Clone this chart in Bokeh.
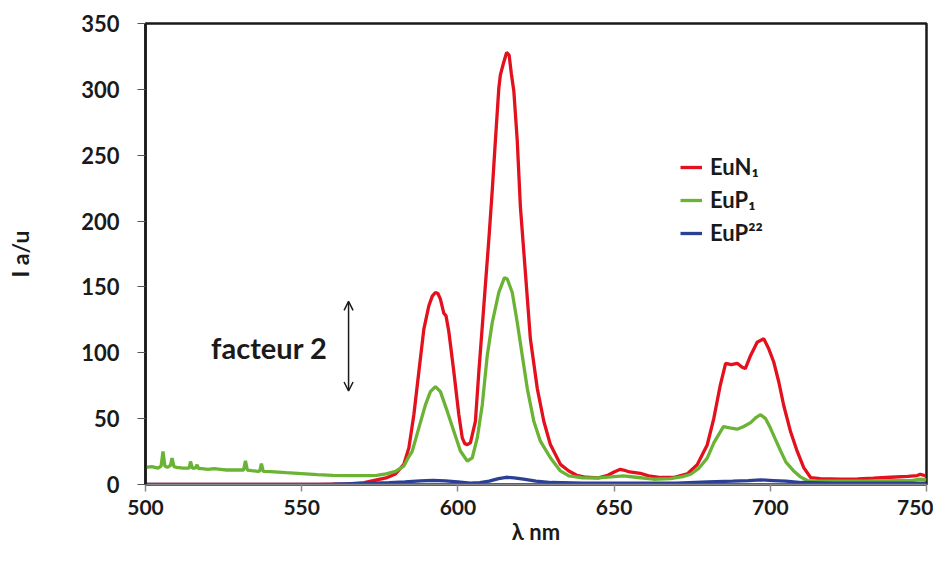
from bokeh.plotting import figure
from bokeh.models import Range1d, Legend, LegendItem, Label, Arrow, OpenHead, FixedTicker
from bokeh.embed import file_html
from bokeh.resources import INLINE

# ---- data ----
red_nm = [500, 520, 540, 555, 565, 570, 574, 577, 580, 582.7, 584.3, 585.9, 587.5, 589.1, 590.7,
          591.8, 592.8, 593.6, 594.4, 595.5, 596.2, 597.1, 598.7, 600.3, 601.4, 602.2, 603, 604,
          605.6, 606.7, 608.3, 609.9, 611.0, 612.0, 613.1, 613.6, 614.6, 615.6, 616.4, 617.1,
          617.9, 619, 620, 621.6, 623.2, 625.4, 627.5, 629.6, 632.8, 635.5, 638, 641, 645, 648,
          650, 652, 653, 655, 658.4, 661, 665, 669, 673.4, 676.6, 679.8, 681.9, 684, 685.7, 687.5,
          689.4, 691, 692, 693.7, 695.8, 697.9, 699.5, 701.1, 702.7, 704.3, 706.5, 708.6, 710.7,
          712.9, 716, 722.5, 728, 733, 738.5, 744, 747, 748, 749.7]
red_I = [0, 0, 0, 0, 0.5, 1.5, 3.5, 5, 8, 15.3, 27.8, 53, 85.6, 118, 135.7,
         143, 145.8, 145, 140.7, 130, 128, 116, 85.6, 53, 35.4, 31, 30.3, 31.6,
         48, 85.6, 135.7, 186, 223.5, 261, 301, 311, 320, 328, 326, 312,
         298.8, 261, 211, 161, 110.6, 73, 48, 30.3, 15.3, 10.3, 7, 5.5, 5, 7,
         9.5, 11.5, 11, 9.5, 8.5, 6.5, 5.3, 5.3, 8, 15, 30, 50, 75.5, 92, 91,
         92, 89, 88, 98, 108, 110.6, 103, 93, 78, 60, 40, 25.3, 12.8,
         5.3, 4.5, 4, 4.2, 4.8, 5.5, 6.2, 6.8, 7.8, 6.5]

green_nm = [500, 502, 504, 505, 505.6, 506.2, 507, 508, 508.5, 509.1, 510, 512, 514, 514.4, 515,
            516, 516.5, 517, 518, 520, 522, 524, 526, 528, 530, 531.4, 532, 532.6, 534, 536,
            536.6, 537.1, 537.7, 540, 545, 550, 555, 560, 565, 570, 574, 577, 580, 582.7, 584,
            585.4, 587.5, 589.6, 591.2, 592.8, 594.4, 596.6, 598.7, 600.8, 603, 604.6, 606.2,
            607.8, 609.4, 611, 613.1, 614.9, 615.8, 617.4, 619, 620.6, 622.2, 624.3, 626.4,
            629.6, 632.8, 635.5, 640, 645, 650, 653, 657, 662.6, 668, 672, 674.5, 677, 679.8,
            682, 685, 687, 689.4, 691.5, 693.7, 695.5, 696.9, 698.5, 700, 701.5, 703.3, 705,
            707.4, 709.5, 711.8, 715, 720, 730, 740, 745, 748, 750]
green_I = [13, 13.5, 12.5, 14, 25, 14, 13, 14.5, 20, 13.5, 13, 12.5, 12.5, 17.5, 12.5,
           12.5, 15, 12, 12, 11.5, 12, 11.5, 11, 11, 11, 11, 18, 11, 10.5, 10,
           10.3, 15.8, 10, 9.8, 9, 8.3, 7.5, 7, 6.8, 6.8, 7, 8, 10, 14, 20,
           25.4, 43, 60.4, 70.5, 74.3, 70.5, 55.5, 40.4, 25.4, 17.8, 20.3, 35.4,
           60.4, 98, 123, 145.8, 157, 156, 145.8, 123, 98, 73, 48, 32.9,
           20.3, 10.3, 6.5, 5, 5, 6, 6.5, 5.5, 4, 4.5, 6, 7.8, 12, 20,
           32, 44, 43, 42, 44, 47, 51, 53, 50, 43, 35, 25.5, 17,
           10.5, 6, 3, 2.5, 2.5, 2.5, 3, 3, 4, 3.5]

blue_nm = [500, 540, 560, 570, 578, 583, 588, 592, 596, 600, 604, 607, 610, 613, 615.5, 618,
           621, 625, 630, 640, 650, 660, 670, 680, 688, 693, 697, 701, 705, 710, 720, 730, 740, 750]
blue_I = [0, 0, 0.3, 0.8, 1.5, 2, 2.8, 3.2, 2.8, 2, 1, 1.5, 2.5, 4.5, 5.5, 5,
          4, 2.5, 1.5, 1, 1, 1, 1, 2, 2.5, 3, 3.5, 3, 2.5, 1.5, 1, 1, 1, 1]

x_ticks = [500, 550, 600, 650, 700, 750]
y_ticks = [0, 50, 100, 150, 200, 250, 300, 350]
series_labels = ["EuN\u2081", "EuP\u2081", "EuP\u00b2\u00b2"]
colors = ["#E3101E", "#6AB334", "#2B3F94"]

FONT = "Lato"
INK = "#1a1a1a"

p = figure(width=933, height=547, output_backend="svg", toolbar_location=None,
           x_range=Range1d(500, 750), y_range=Range1d(0, 350),
           min_border_left=145, min_border_right=7, min_border_top=23, min_border_bottom=60)
p.grid.visible = False
p.background_fill_color = "white"
p.outline_line_color = INK
p.outline_line_width = 2.5

r1 = p.line(red_nm, red_I, line_color=colors[0], line_width=3.3)
r2 = p.line(green_nm, green_I, line_color=colors[1], line_width=3.3)
r3 = p.line(blue_nm, blue_I, line_color=colors[2], line_width=3.3)

# axes
xa = p.xaxis[0]
xa.ticker = FixedTicker(ticks=x_ticks)
xa.axis_line_color = "#8a8a8a"
xa.axis_line_width = 1.5
xa.major_tick_line_color = "#8a8a8a"
xa.major_tick_line_width = 1.5
xa.major_tick_in = 0
xa.major_tick_out = 7
xa.minor_tick_line_color = None
xa.major_label_text_font = FONT
xa.major_label_text_font_style = "bold"
xa.major_label_text_font_size = "21px"
xa.major_label_text_color = INK
xa.major_label_standoff = 8
xa.axis_label = "\u03bb nm"
xa.axis_label_text_font = FONT
xa.axis_label_text_font_style = "bold"
xa.axis_label_text_font_size = "22px"
xa.axis_label_text_color = INK
xa.axis_label_standoff = 0

ya = p.yaxis[0]
ya.ticker = FixedTicker(ticks=y_ticks)
ya.axis_line_color = INK
ya.axis_line_width = 2.5
ya.major_tick_line_color = "#555555"
ya.major_tick_line_width = 1.2
ya.major_tick_in = 0
ya.major_tick_out = 8
ya.minor_tick_line_color = None
ya.major_label_text_font = FONT
ya.major_label_text_font_style = "bold"
ya.major_label_text_font_size = "22px"
ya.major_label_text_color = INK
ya.major_label_standoff = 18
ya.axis_label = "I a/u"
ya.axis_label_text_font = FONT
ya.axis_label_text_font_style = "bold"
ya.axis_label_text_font_size = "23px"
ya.axis_label_text_color = INK
ya.axis_label_standoff = 44

# legend
legend = Legend(items=[LegendItem(label=series_labels[0], renderers=[r1]),
                       LegendItem(label=series_labels[1], renderers=[r2]),
                       LegendItem(label=series_labels[2], renderers=[r3])],
                location=(535, 238), orientation="vertical",
                padding=0, margin=0, spacing=6,
                glyph_width=22, glyph_height=22, label_height=22, label_standoff=8,
                label_text_font=FONT, label_text_font_style="bold",
                label_text_font_size="22px", label_text_color=INK,
                border_line_alpha=0, background_fill_alpha=0)
p.add_layout(legend, "center")

# annotation: facteur 2 with double arrow
p.add_layout(Label(x=521, y=104, text="facteur 2", text_font=FONT, text_font_style="bold",
                   text_font_size="29px", text_color=INK, text_baseline="middle",
                   text_align="left"))
p.add_layout(Arrow(x_start=565, y_start=71, x_end=565, y_end=139,
                   line_color=INK, line_width=1.5,
                   start=OpenHead(size=9, line_width=1.5, line_color=INK),
                   end=OpenHead(size=9, line_width=1.5, line_color=INK)))

open("out.html", "w").write(file_html(p, INLINE))
